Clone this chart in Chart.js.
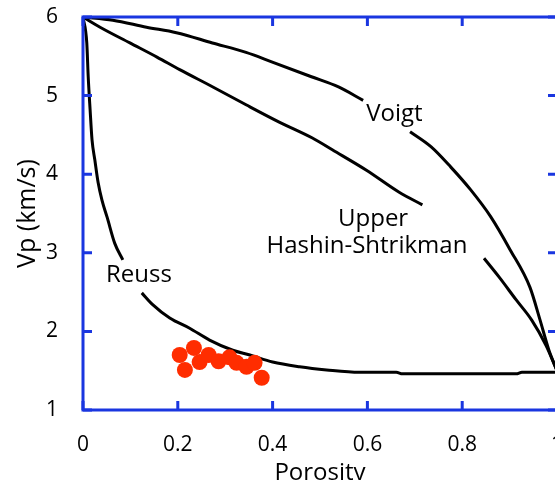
<!DOCTYPE html>
<html>
<head>
<meta charset="utf-8">
<script src="https://cdn.jsdelivr.net/npm/chart.js@4.4.1/dist/chart.umd.min.js"></script>
<style>
  html, body { margin: 0; padding: 0; background: #fff; overflow: hidden; }
  #wrap { width: 555px; height: 480px; overflow: hidden; }
</style>
</head>
<body>
<div id="wrap"><canvas id="chart-bounds" width="565" height="490"></canvas></div>
<script>
// porosity / velocity pairs (null = gap where a label sits)
const voigtPhi = [0, 0.063, 0.134, 0.197, 0.273, 0.344, 0.398, 0.482, 0.539, 0.591, 0.64, 0.690, 0.734, 0.776, 0.818, 0.860, 0.901, 0.943, 0.964, 0.983, 1];
const voigtVp  = [6, 5.96, 5.87, 5.80, 5.67, 5.55, 5.43, 5.24, 5.11, 4.94, null, 4.54, 4.35, 4.09, 3.80, 3.46, 3.04, 2.56, 2.15, 1.76, 1.5];

const hsPhi = [0, 0.036, 0.099, 0.156, 0.204, 0.274, 0.345, 0.415, 0.484, 0.526, 0.598, 0.667, 0.716, 0.78, 0.846, 0.878, 0.914, 0.947, 0.977, 1];
const hsVp  = [6, 5.87, 5.67, 5.49, 5.33, 5.11, 4.88, 4.66, 4.46, 4.31, 4.05, 3.77, 3.61, null, 2.93, 2.69, 2.40, 2.14, 1.82, 1.5];

const reussPhi = [0, 0.008, 0.011, 0.015, 0.019, 0.025, 0.032, 0.040, 0.051, 0.067, 0.084, 0.10, 0.124, 0.147, 0.183, 0.225, 0.267, 0.316, 0.352, 0.400, 0.457, 0.514, 0.583, 0.661, 0.674, 0.914, 0.926, 1];
const reussVp  = [6, 5.67, 5.24, 4.82, 4.44, 4.18, 3.89, 3.67, 3.45, 3.12, 2.91, null, 2.49, 2.34, 2.17, 2.04, 1.89, 1.76, 1.70, 1.61, 1.55, 1.51, 1.48, 1.48, 1.46, 1.46, 1.48, 1.48];

const samplePhi = [0.204, 0.234, 0.215, 0.246, 0.265, 0.286, 0.309, 0.324, 0.345, 0.362, 0.377];
const sampleVp  = [1.70, 1.79, 1.51, 1.61, 1.70, 1.62, 1.67, 1.60, 1.55, 1.60, 1.41];

const xTicks = [0, 0.2, 0.4, 0.6, 0.8, 1];
const yTicks = [1, 2, 3, 4, 5, 6];

// curve names placed next to the lines (data coordinates)
const curveNames = [
    { text: 'Voigt', x: 0.657, y: 4.76 },
    { text: 'Upper', x: 0.612, y: 3.43 },
    { text: 'Hashin-Shtrikman', x: 0.599, y: 3.09 },
    { text: 'Reuss', x: 0.118, y: 2.71 }
];

const FONT = '"Open Sans", "DejaVu Sans", sans-serif';
const AXIS_BLUE = '#1a36e0';

function toPoints(xs, ys){
    return xs.map((x, i) => ({ x: x, y: ys[i] }));
}

const frameTicks = {
    id: 'frameTicks',
    afterDraw(chart){
        const ctx = chart.ctx;
        const a = chart.chartArea;
        const xs = chart.scales.x;
        const ys = chart.scales.y;
        const len = 9;
        ctx.save();
        ctx.strokeStyle = AXIS_BLUE;
        ctx.lineWidth = 3;
        ctx.lineCap = 'butt';
        ctx.strokeRect(a.left, a.top, a.right - a.left, a.bottom - a.top);
        ctx.beginPath();
        xTicks.forEach(v => {
            const px = xs.getPixelForValue(v);
            ctx.moveTo(px, a.bottom); ctx.lineTo(px, a.bottom - len);
            ctx.moveTo(px, a.top); ctx.lineTo(px, a.top + len);
        });
        yTicks.forEach(v => {
            const py = ys.getPixelForValue(v);
            ctx.moveTo(a.left, py); ctx.lineTo(a.left + len, py);
            ctx.moveTo(a.right, py); ctx.lineTo(a.right - len, py);
        });
        ctx.stroke();

        ctx.fillStyle = '#000';
        ctx.font = '24px ' + FONT;
        ctx.textAlign = 'center';
        ctx.textBaseline = 'middle';
        curveNames.forEach(n => {
            ctx.fillText(n.text, xs.getPixelForValue(n.x), ys.getPixelForValue(n.y));
        });
        ctx.restore();
    }
};

const lineStyle = {
    showLine: true,
    fill: false,
    borderColor: '#000',
    borderWidth: 3,
    pointRadius: 0,
    spanGaps: false,
    cubicInterpolationMode: 'monotone'
};

new Chart(document.getElementById('chart-bounds'), {
    type: 'scatter',
    data: {
        datasets: [
            {
                label: 'Samples',
                data: toPoints(samplePhi, sampleVp),
                backgroundColor: '#ff2d00',
                borderColor: '#ff2d00',
                borderWidth: 0,
                pointRadius: 8
            },
            Object.assign({ label: 'Voigt', data: toPoints(voigtPhi, voigtVp) }, lineStyle),
            Object.assign({ label: 'Upper Hashin-Shtrikman', data: toPoints(hsPhi, hsVp) }, lineStyle),
            Object.assign({ label: 'Reuss', data: toPoints(reussPhi, reussVp) }, lineStyle)
        ]
    },
    options: {
        responsive: false,
        animation: false,
        devicePixelRatio: 1,
        layout: { padding: { top: 17, right: 7, left: 0, bottom: 0 } },
        plugins: {
            legend: { display: false },
            tooltip: { enabled: false }
        },
        scales: {
            x: {
                type: 'linear',
                min: 0,
                max: 1,
                grid: { display: false },
                border: { display: false },
                afterFit: scale => {
                    scale.height = 80;
                    scale.paddingLeft = 0;
                    scale.paddingRight = 0;
                },
                afterBuildTicks: scale => { scale.ticks = xTicks.map(v => ({ value: v })); },
                ticks: {
                    color: '#000',
                    padding: 14,
                    maxRotation: 0,
                    font: { family: FONT, size: 21 },
                    callback: v => String(Math.round(v * 10) / 10)
                },
                title: {
                    display: true,
                    text: 'Porosity',
                    color: '#000',
                    font: { family: FONT, size: 24 },
                    padding: { top: 0, bottom: 2 }
                }
            },
            y: {
                type: 'linear',
                min: 1,
                max: 6,
                grid: { display: false },
                border: { display: false },
                afterFit: scale => {
                    scale.width = 83;
                    scale.paddingTop = 0;
                    scale.paddingBottom = 0;
                },
                afterBuildTicks: scale => { scale.ticks = yTicks.map(v => ({ value: v })); },
                ticks: {
                    color: '#000',
                    padding: 17,
                    font: { family: FONT, size: 21 }
                },
                title: {
                    display: true,
                    text: 'Vp (km/s)',
                    color: '#000',
                    font: { family: FONT, size: 25 },
                    padding: { top: 13, bottom: 0 }
                }
            }
        }
    },
    plugins: [frameTicks]
});
</script>
</body>
</html>
